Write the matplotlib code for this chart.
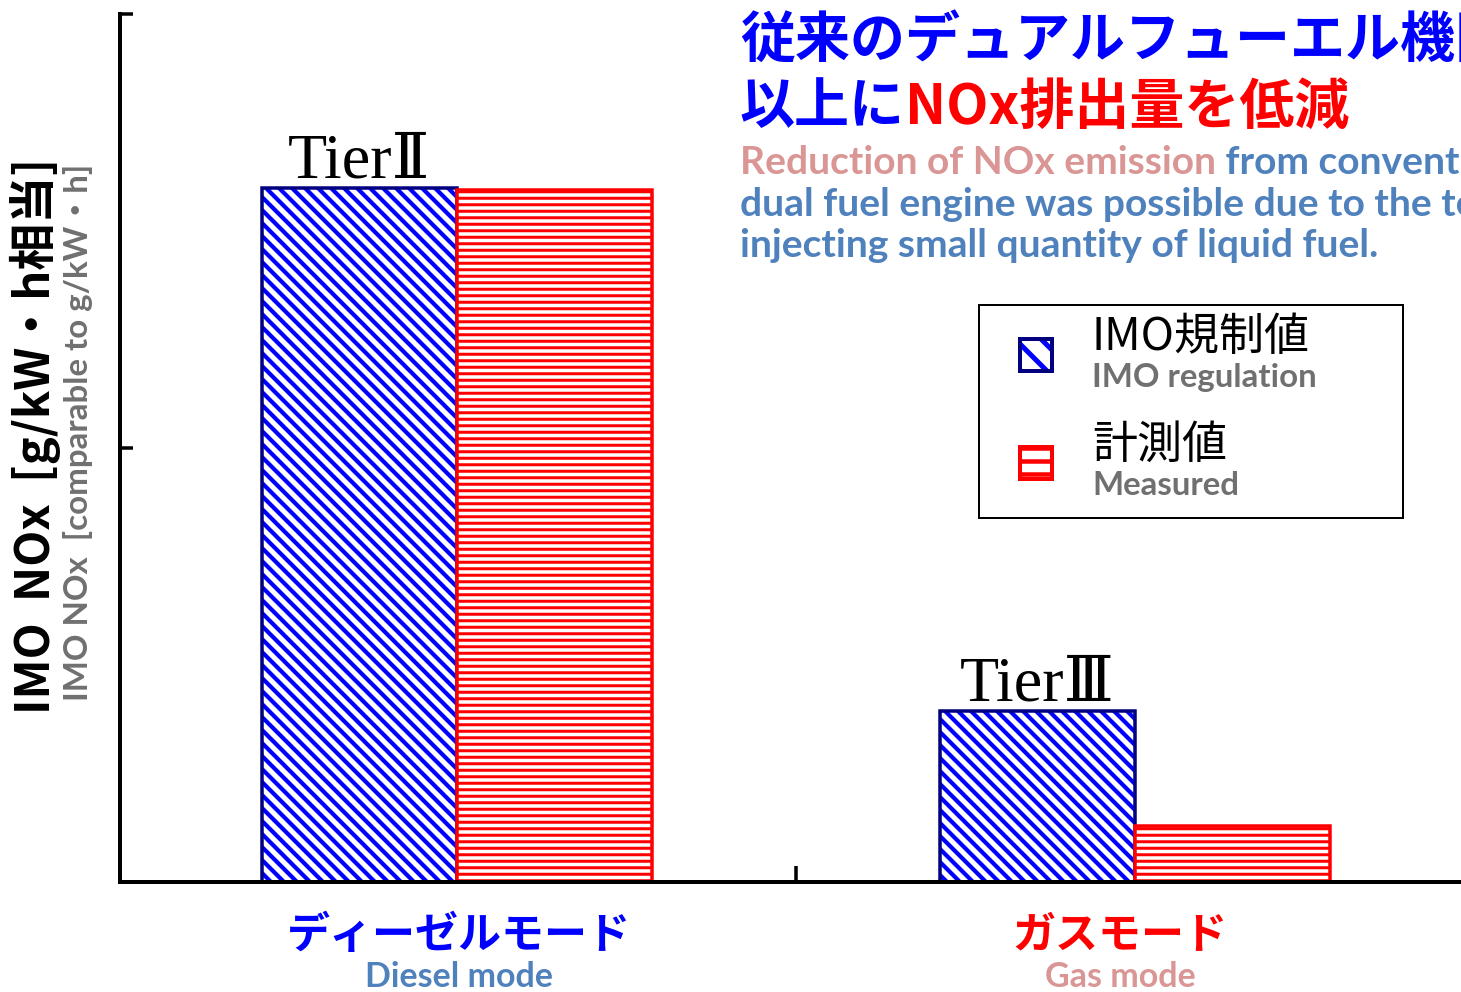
import matplotlib
matplotlib.use("Agg")
import matplotlib.pyplot as plt
from matplotlib.patches import Rectangle

# data (arbitrary units, axis max = 20)
modes_jp = ["ディーゼルモード", "ガスモード"]
modes_en = ["Diesel mode", "Gas mode"]
imo_limit = [16.0, 3.95]
measured = [15.95, 1.3]
tier_labels = ["TierⅡ", "TierⅢ"]
series_jp = ["IMO規制値", "計測値"]
series_en = ["IMO regulation", "Measured"]

JP = ["Noto Sans CJK JP", "DejaVu Sans"]
EN = ["Lato", "Noto Sans CJK JP", "DejaVu Sans"]
SERIF = ["Liberation Serif", "DejaVu Serif", "Noto Sans CJK JP"]

BLUE = "#0000ff"
NAVY = "#000080"
RED = "#ff0000"
PINK = "#d99694"
STEEL = "#4f81bd"
GRAY = "#707070"

W, H, DPI = 1461, 993, 78


def px(x, y):
    # pixel position (from top-left) -> figure fraction
    return x / W, 1 - y / H


def pt(p):
    # pixel size -> points
    return p * 72 / DPI


fig = plt.figure(figsize=(W / DPI, H / DPI), dpi=DPI)
ax = fig.add_axes([120 / W, 1 - 883 / H, 1 - 120 / W, (883 - 15) / H])

x = [0, 1]
w = 0.2876
xi = [v - w / 2 for v in x]
xm = [v + w / 2 for v in x]

# hatched fill, then a solid outline on top
plt.rcParams["hatch.linewidth"] = pt(4.2)
ax.bar(xi, imo_limit, w, color="white", edgecolor=BLUE, hatch="\\\\", linewidth=0)
ax.bar(xi, imo_limit, w, fill=False, edgecolor=NAVY, linewidth=pt(3.5))
plt.rcParams["hatch.linewidth"] = pt(3.0)
ax.bar(xm, measured, w, color="white", edgecolor=RED, hatch="--", linewidth=0)
ax.bar(xm, measured, w, fill=False, edgecolor=RED, linewidth=pt(3.5))

for xv, v, lab in zip(xi, imo_limit, tier_labels):
    ax.annotate(lab, (xv, v), xytext=(0, pt(11)), textcoords="offset points",
                ha="center", va="baseline", fontsize=pt(64), family=SERIF)

ax.set_xlim(-0.497, 1.481)
ax.set_ylim(0, 20)
ax.set_xticks([0.5])
ax.set_yticks([10, 20])
ax.tick_params(axis="both", direction="in", width=pt(3.5), labelleft=False,
               labelbottom=False)
ax.tick_params(axis="y", length=pt(13))
ax.tick_params(axis="x", length=pt(16))
for s in ["top", "right"]:
    ax.spines[s].set_visible(False)
for s in ["left", "bottom"]:
    ax.spines[s].set_linewidth(pt(4))

# category labels
for xv, jp, en, cj, ce in zip([459, 1120], modes_jp, modes_en, [BLUE, RED], [STEEL, PINK]):
    fig.text(*px(xv, 935), jp, ha="center", va="center", fontsize=pt(43),
             family=JP, weight="bold", color=cj)
    fig.text(*px(xv, 977), en, ha="center", va="center", fontsize=pt(34),
             family=EN, weight="bold", color=ce)

# y label (two lines)
fig.text(*px(35, 436), "IMO  NOx  [g/kW・h相当]", rotation=90, ha="center",
         va="center", fontsize=pt(47), family=JP, weight="bold")
fig.text(*px(78, 432), "IMO NOx  [comparable to g/kW・h]", rotation=90,
         ha="center", va="center", fontsize=pt(33), family=EN, weight="bold",
         color=GRAY)

# headline (runs past the right edge, as in the original slide)
fig.text(*px(740, 40), "従来のデュアルフューエル機関", ha="left", va="center",
         fontsize=pt(55), family=JP, weight="bold", color=BLUE)
t = fig.text(*px(740, 107), "以上に", ha="left", va="center",
             fontsize=pt(55), family=JP, weight="bold", color=BLUE)
ax.annotate("NOx排出量を低減", xy=(1, 0), xycoords=t, ha="left", va="bottom",
            fontsize=pt(55), family=JP, weight="bold", color=RED,
            annotation_clip=False)

t = fig.text(*px(740, 162), "Reduction of NOx emission", ha="left",
             va="center", fontsize=pt(39), family=EN, weight="bold", color=PINK)
ax.annotate(" from conventional", xy=(1, 0), xycoords=t, ha="left",
            va="bottom", fontsize=pt(39), family=EN, weight="bold",
            color=STEEL, annotation_clip=False)
fig.text(*px(740, 205), "dual fuel engine was possible due to the technique of",
         ha="left", va="center", fontsize=pt(39), family=EN, weight="bold",
         color=STEEL)
fig.text(*px(740, 246), "injecting small quantity of liquid fuel.", ha="left",
         va="center", fontsize=pt(39), family=EN, weight="bold", color=STEEL)

# legend box drawn by hand
fig.patches.append(Rectangle(px(979, 519), (1403 - 979) / W, (519 - 306) / H,
                             transform=fig.transFigure, fill=False,
                             edgecolor="black", linewidth=pt(2)))
icons = [(BLUE, NAVY, "\\", 5.0), (RED, RED, "-", 4.5)]
for i, (jp, en, (hc, ec, hatch, hlw)) in enumerate(zip(series_jp, series_en, icons)):
    y0 = 340 + i * 108
    plt.rcParams["hatch.linewidth"] = pt(hlw)
    fig.patches.append(Rectangle(px(1020, y0 + 32), 32 / W, 32 / H,
                                 transform=fig.transFigure, facecolor="white",
                                 edgecolor=hc, hatch=hatch, linewidth=0))
    fig.patches.append(Rectangle(px(1020, y0 + 32), 32 / W, 32 / H,
                                 transform=fig.transFigure, fill=False,
                                 edgecolor=ec, linewidth=pt(4)))
    fig.text(*px(1092, y0 - 3), jp, ha="left", va="center", fontsize=pt(45),
             family=JP)
    fig.text(*px(1092, y0 + 38), en, ha="left", va="center", fontsize=pt(33),
             family=EN, weight="bold", color=GRAY)

fig.savefig("out.png", dpi=DPI)
